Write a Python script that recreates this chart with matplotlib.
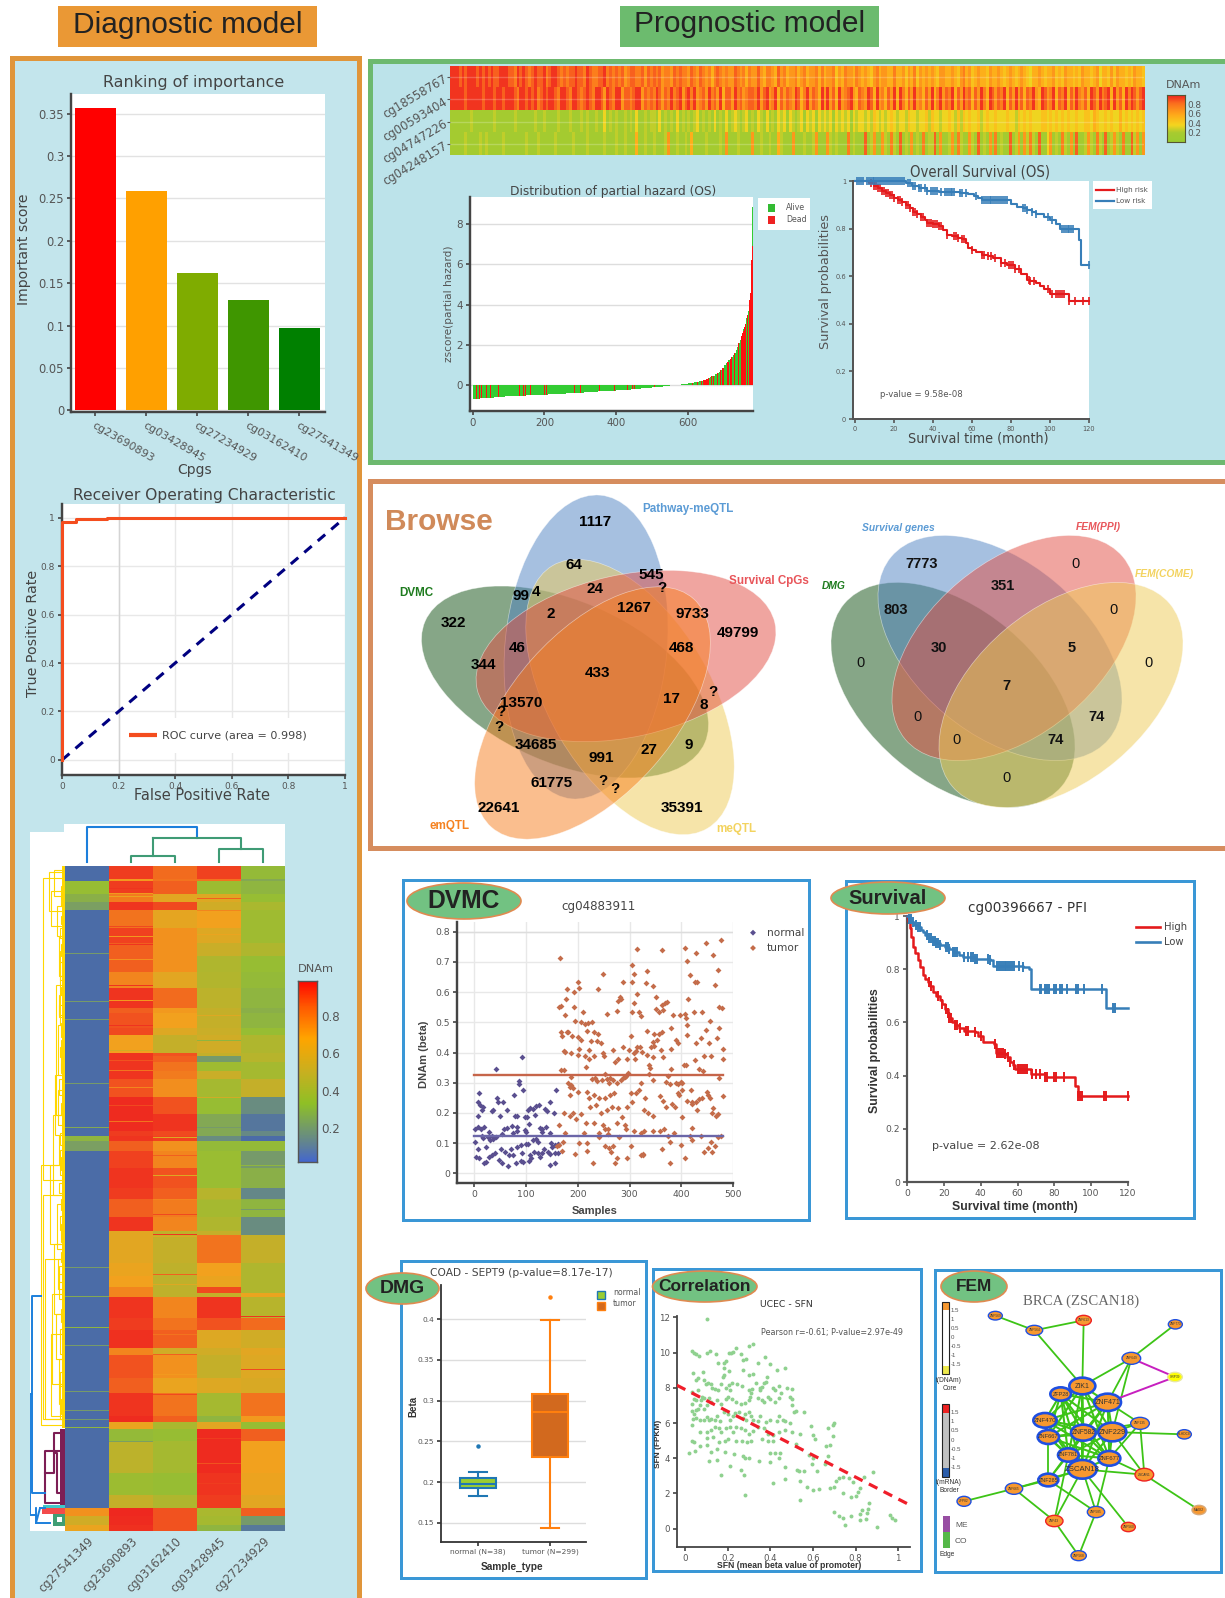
import numpy as np
import matplotlib
matplotlib.use('Agg')
import matplotlib.pyplot as plt
from matplotlib.patches import Ellipse, Rectangle
from matplotlib.colors import LinearSegmentedColormap

W, H = 1225, 1598
SANS = 'Liberation Sans'
VER = 'DejaVu Sans'
GREY = '#555555'
DARK = '#444444'

# ---------- data: ranking bar chart
cpg_names = ['cg23690893', 'cg03428945', 'cg27234929', 'cg03162410', 'cg27541349']
importance = [0.356, 0.259, 0.162, 0.130, 0.097]
bar_colors = ['#ff0000', '#ffa000', '#7fac00', '#3f9600', '#008000']

# ---------- data: ROC
roc_fpr = [0, 0, 0.05, 0.05, 0.16, 0.16, 1]
roc_tpr = [0, 0.98, 0.98, 0.995, 0.995, 1, 1]

# ---------- data: clustered heatmap (row count of each band, then five column values)
hm_cols = ['cg27541349', 'cg23690893', 'cg03162410', 'cg03428945', 'cg27234929']
hm_rows = [13, 2, 13, 8, 8, 18, 15, 13, 16, 17, 20, 5, 15, 7, 18, 3, 6, 9, 8, 18, 17, 17, 5, 5, 10, 17, 20, 12, 1,
           17, 14, 4, 28, 13, 11, 6, 4, 21, 12, 18, 7, 23, 15, 23, 7, 7, 12, 32, 22, 13, 8, 9, 6]
hm_c0 = [.03, .03, .33, .28, .22, .03, .03, .03, .03, .03, .03, .03, .03, .03, .03, .03, .03, .03, .03, .03, .03, .03, .03, .3, .22, .03, .03, .03, .03,
         .03, .03, .03, .03, .03, .03, .03, .03, .03, .03, .03, .03, .03, .03, .03, .03, .03, .03, .03, .03, .03, .72, .55, .65]
hm_c1 = [.93, .7, .93, .78, .95, .8, .92, .85, .85, .75, .95, .85, .88, .9, .68, .95, .95, .95, .95, .88, .97, .97, .93, .95, .85, .92, .95, .93, .85,
         .85, .95, .62, .62, .65, .68, .75, .75, .95, .93, .96, .75, .88, .85, .95, .97, .65, .32, .47, .35, .5, .98, .97, .96]
hm_c2 = [.82, .8, .85, .62, .9, .63, .72, .72, .72, .62, .82, .7, .68, .6, .5, .88, .85, .8, .78, .73, .88, .95, .9, .92, .72, .75, .88, .85, .75,
         .78, .75, .48, .5, .48, .48, .48, .48, .75, .8, .85, .55, .72, .65, .8, .85, .4, .33, .38, .33, .42, .88, .88, .88]
hm_c3 = [.92, .8, .35, .6, .55, .68, .6, .52, .42, .43, .47, .5, .5, .52, .55, .5, .2, .36, .52, .38, .33, .25, .25, .15, .32, .34, .34, .45, .42,
         .38, .42, .5, .8, .68, .65, .9, .5, .95, .88, .6, .55, .5, .6, .38, .3, .62, .97, .97, .95, .93, .4, .38, .3]
hm_c4 = [.32, .25, .3, .33, .4, .36, .36, .42, .33, .32, .3, .28, .3, .33, .42, .45, .45, .38, .38, .5, .15, .07, .14, .03, .32, .2, .28, .13, .28,
         .3, .15, .15, .5, .42, .42, .42, .65, .45, .82, .55, .62, .6, .58, .8, .7, .33, .85, .68, .66, .62, .85, .2, .08]
stripe_row = [87, 136, 154, 218, 262, 403, 432, 463, 481, 527, 546, 555, 564, 13, 22, 27, 30, 60, 70, 78, 93, 120, 135, 160, 185, 195, 205, 222, 240, 256,
              272, 290, 310, 330, 350, 370, 372, 410, 420, 445, 470, 490, 510, 530, 575, 600, 620, 578, 32, 44, 68, 150, 175, 232, 262, 300, 345, 395, 452, 505]
stripe_col = [0, 0, 0, 0, 0, 0, 0, 0, 0, 0, 0, 0, 0, 1, 1, 1, 1, 1, 1, 1, 1, 1, 1, 1, 1, 1, 1, 1, 1, 1,
              2, 2, 2, 2, 2, 2, 2, 2, 2, 2, 2, 2, 2, 2, 3, 3, 3, 1, 3, 3, 3, 3, 3, 3, 3, 4, 4, 4, 4, 4]
stripe_val = [.2, .2, .2, .2, .25, .2, .25, .3, .2, .2, .2, .2, .3, .7, .95, .7, .65, .9, .7, .95, .72, .95, .7, .95, .55, .88, .8, .75, .9, .8,
              .6, .85, .6, .85, .9, .95, .6, .85, .6, .75, .8, .85, .7, .9, .93, .88, .93, .22, .85, .75, .65, .6, .3, .55, .2, .3, .2, .5, .95, .9]
# left dendrogram brackets: depth, first row, last row
yd_depth = [22, 24, 16, 11, 14, 8, 6, 5, 9, 7, 10, 12, 6, 15, 22, 8, 11, 7, 13, 20, 9, 6, 14, 5, 4, 5, 6, 4, 7, 5, 4, 6, 5, 4,
            4, 5, 3.6, 5, 4, 6, 4, 5, 4, 6, 3.6, 5, 4, 6, 4, 5, 4, 6, 4, 5]
yd_top = [12, 300, 6, 4, 25, 40, 70, 110, 120, 160, 210, 250, 270, 300, 330, 340, 380, 395, 430, 395, 450, 495, 470, 520, 20, 85, 130, 175, 225, 285, 360, 410, 465, 535,
          50, 62, 78, 96, 122, 140, 158, 182, 198, 214, 238, 268, 292, 318, 335, 352, 388, 402, 445, 508]
yd_bot = [315, 562, 45, 30, 60, 70, 110, 160, 250, 210, 270, 330, 300, 380, 555, 385, 450, 425, 520, 555, 495, 540, 552, 555, 40, 115, 150, 205, 260, 310, 378, 435, 490, 550,
          58, 72, 90, 110, 130, 152, 172, 192, 208, 230, 250, 280, 305, 328, 346, 366, 398, 418, 458, 522]

# ---------- data: methylation strip heatmap (digits are tenths of beta)
strip_1 = ('99989 89998 98989 88999 88798 98789 88978 99878 78898 87987 78897 87878 67887 78687 87867 76878 77687 68767 57876 76687 67576 68657 76586 75667 '
           '56756 67575 66746 57665 76565 46756 65575 56465 74656 56546 65565 46756 45655 46556 54565 45654 35565 45564 54655 45465 54563 55464 65545 46554')
strip_2 = ('99999 89999 98999 89989 99879 98989 78989 98799 87998 78987 99869 87996 88789 96878 79868 79789 68979 67869 78695 88697 86788 79689 67958 68769 '
           '85796 87596 96859 67896 58769 85967 58695 97586 96758 69579 68795 86978 58697 59868 79586 96858 79659 86795 87958 69768 59869 78959 68597 98689')
strip_3 = ('11111 11211 11111 21111 11211 11112 11211 11211 12111 21211 21131 21211 21213 11212 21312 12131 21212 31212 13121 31232 12312 13213 12132 31321 '
           '23132 31323 23132 32313 23323 24323 23432 33243 32334 24332 33432 42434 33423 43343 33433 24343 43334 43434 34343 34334 43543 34343 35343 43434')
strip_4 = ('11111 21111 21211 11121 11111 12111 21111 12111 11211 11211 11121 11211 21115 11211 21112 61121 12151 11121 11121 61112 11116 11211 21152 11161 '
           '11211 26111 62121 11712 11181 26116 21721 81216 12171 22816 11261 72116 21812 16171 21181 26162 72181 13612 17216 18112 62172 18126 21711 82616')
strip_names = ['cg18558767', 'cg00593404', 'cg04747226', 'cg04248157']

# ---------- data: partial hazard
haz_x = [0, 10, 20, 30, 40, 50, 60, 70, 80, 90, 100, 110, 120, 130, 140, 150, 160, 170, 180, 190, 200, 210, 220, 230, 240, 250, 260, 270, 280, 290,
         300, 310, 320, 330, 340, 350, 360, 370, 380, 390, 400, 410, 420, 430, 440, 450, 460, 470, 480, 490, 500, 510, 520, 530, 540, 550, 560, 570, 580, 590, 600,
         605, 610, 615, 620, 625, 630, 635, 640, 645, 650, 655, 660, 665, 670, 675, 680, 685, 690, 695, 700, 704, 708, 712, 716, 720, 724, 728, 732, 736, 740,
         744, 748, 750, 752, 754, 756, 758, 760, 762, 764, 766, 768, 770, 772, 774, 776, 777, 778, 779]
haz_z = [-.70, -.69, -.65, -.64, -.63, -.63, -.62, -.60, -.58, -.57, -.57, -.55, -.55, -.54, -.53, -.52, -.52, -.50, -.50, -.49, -.48, -.47, -.47, -.45, -.44, -.43, -.42, -.41, -.40, -.39,
         -.38, -.37, -.36, -.35, -.34, -.32, -.31, -.30, -.29, -.28, -.27, -.26, -.25, -.24, -.23, -.22, -.20, -.18, -.16, -.15, -.13, -.11, -.09, -.07, -.05, -.03, -.01, .01, .03, .05, .08,
         .09, .10, .12, .14, .15, .17, .20, .23, .26, .30, .34, .38, .42, .46, .52, .58, .64, .72, .85, 1.0, 1.07, 1.15, 1.22, 1.30, 1.40, 1.50, 1.60, 1.72, 1.88, 2.07,
         2.25, 2.45, 2.6, 2.7, 2.8, 2.9, 3.05, 3.2, 3.35, 3.5, 3.7, 3.9, 4.2, 4.56, 5.3, 6.2, 6.9, 7.5, 8.87]
dead_samples = [3, 6, 10, 14, 18, 24, 38, 48, 64, 72, 95, 130, 140, 146, 160, 200, 205, 283, 300, 340, 352, 395, 430, 437, 445, 450, 505, 540, 590, 610, 625, 636, 641, 645, 648, 650, 653, 655,
                660, 663, 665, 670, 680, 685, 690, 695, 698, 704, 708, 711, 716, 720, 728, 732, 740, 748, 750, 752, 756, 758, 760, 764, 768, 770, 772, 774, 776, 777]

# ---------- data: survival curves
os_high_t = [0, 4, 7, 10, 12, 14, 16, 18, 20, 22, 24, 26, 28, 30, 32, 34, 36, 37, 40, 43, 45, 47, 50, 53, 55, 57, 58, 60, 62, 65, 68, 71, 75, 78, 82, 85, 88, 90, 93, 95, 97, 100, 107, 110, 120]
os_high_s = [1, .998, .99, .98, .97, .96, .95, .94, .93, .92, .91, .90, .885, .87, .86, .85, .835, .825, .82, .81, .795, .775, .77, .76, .755, .74, .72, .71, .70, .69, .685, .675, .655, .645, .63, .61, .585, .58, .57, .56, .545, .525, .525, .497, .497]
os_low_t = [0, 24, 26, 29, 33, 37, 43, 48, 54, 58, 61, 63, 65, 78, 80, 83, 86, 88, 91, 93, 97, 100, 103, 105, 114, 115, 116, 120]
os_low_s = [1, 1, .993, .98, .97, .96, .955, .952, .95, .945, .937, .93, .92, .92, .905, .89, .885, .877, .87, .863, .85, .838, .82, .80, .80, .753, .648, .648]
os_high_cens = [8, 10, 11, 12, 13, 14, 15, 16, 17, 18, 19, 20, 22, 23, 24, 26, 27, 28, 30, 31, 32, 34, 35, 37, 38, 39, 40, 41, 42, 43, 44, 47, 51, 52, 53, 55, 56, 60, 65, 66, 68, 70, 72, 75, 77, 79, 80, 81, 82, 84, 89, 90, 92, 99, 101, 103, 104, 105, 106, 107, 110, 113, 117, 120]
os_low_cens = [1, 2, 3, 4, 6, 7, 8, 9, 10, 11, 12, 13, 14, 15, 16, 17, 18, 19, 20, 21, 22, 23, 24, 25, 27, 28, 30, 31, 33, 34, 36, 37, 39, 40, 41, 42, 44, 46, 47, 48, 49, 50, 51, 54, 55, 57, 62, 65, 66, 67, 68, 69, 70, 71, 72, 73, 74, 75, 76, 77, 78, 86, 87, 88, 91, 93, 99, 101, 106, 107, 108, 109, 110, 111, 112, 120]
pfi_high_t = [0, .7, 1.4, 2.3, 3.3, 4.5, 6, 7, 8.7, 10, 11.4, 12.5, 14, 16, 17.7, 19, 20.5, 22, 23, 24.5, 26, 28, 31, 36.7, 38.5, 41, 47, 48.5, 53, 54.5, 56, 57.5, 58.5, 66.6, 67.5, 71, 74.7, 89, 91, 93, 120]
pfi_high_s = [1, .98, .954, .92, .885, .86, .834, .81, .778, .765, .753, .735, .715, .70, .684, .67, .652, .635, .615, .60, .59, .58, .567, .565, .55, .527, .517, .486, .481, .47, .452, .44, .424, .424, .405, .405, .393, .393, .36, .324, .324]
pfi_low_t = [0, 1, 2.4, 4, 6, 7.5, 8.7, 10, 11.4, 14, 16, 18, 20.5, 23, 25, 28, 30.4, 37, 45, 46.7, 63, 66, 67.3, 107, 108, 120]
pfi_low_s = [1, .99, .979, .968, .957, .949, .941, .93, .916, .905, .897, .89, .882, .875, .866, .855, .844, .84, .834, .812, .807, .799, .725, .725, .654, .654]
pfi_high_cens = [12, 13, 17, 19, 21, 22, 23, 24, 26, 27, 29, 32, 33, 37, 40, 48, 49, 50, 51, 52, 53, 55, 56, 58, 60, 61, 62, 63, 64, 65, 68, 70, 72, 75, 76, 80, 81, 85, 93, 94, 95, 107, 108, 120]
pfi_low_cens = [1, 2, 3, 5, 6, 7, 11, 12, 13, 14, 15, 16, 17, 18, 21, 22, 23, 25, 26, 27, 31, 33, 35, 36, 37, 38, 44, 45, 49, 50, 51, 52, 53, 54, 55, 56, 57, 58, 61, 63,
                72, 73, 75, 76, 77, 80, 81, 83, 84, 87, 92, 93, 96, 106, 112, 113]

# ---------- data: DVMC scatter
normal_x = [41, 92, 87, 87, 95, 9, 157, 8, 11, 16, 15, 7, 34, 37, 43, 46, 56, 63, 50, 77, 79, 83, 102, 97, 114, 103, 108, 119, 125, 147, 137, 141, 154, 117, 1, 7, 12, 18, 28, 34, 41, 53, 64, 57, 74, 72, 83, 82, 97, 100, 105, 126, 131, 139, 147, 130,
            1, 7, 14, 16, 26, 31, 37, 22, 3, 9, 18, 23, 28, 35, 39, 47, 53, 51, 60, 71, 67, 75, 66, 80, 90, 95, 83, 90, 99, 103, 93, 107, 105, 110, 115, 123, 130, 135, 123, 120, 113, 143, 147, 155, 151, 156, 148, 161, 146, 156, 161, 126]
normal_y = [.347, .386, .307, .297, .277, .265, .277, .235, .227, .221, .208, .191, .205, .208, .249, .235, .235, .209, .189, .259, .191, .191, .188, .186, .213, .209, .216, .222, .226, .236, .212, .205, .198, .193, .147, .153, .147, .153, .138, .125, .12, .131, .151, .147, .133, .157, .153, .139, .142, .137, .164, .151, .148, .153, .134, .137,
            .102, .082, .125, .117, .12, .111, .115, .087, .055, .049, .035, .038, .055, .062, .068, .044, .035, .082, .071, .082, .06, .06, .024, .035, .041, .038, .087, .093, .096, .096, .068, .06, .04, .049, .071, .066, .068, .082, .104, .112, .109, .071, .064, .066, .087, .093, .101, .096, .027, .033, .066, .055]
tumor_x = [165, 314, 363, 407, 447, 476, 428, 461, 412, 304, 248, 309, 333, 471, 417, 426, 430, 201, 287, 304, 331, 345, 465, 239, 203, 193, 179, 178, 281, 277, 284, 351, 363, 372, 368, 308, 315, 413, 164, 167, 175, 192, 472, 479, 210, 256, 275, 304, 318, 322, 352, 357, 365, 384, 398, 408, 410, 425, 441,
           195, 207, 213, 220, 227, 455, 411, 380, 473, 217, 168, 179, 181, 232, 240, 348, 356, 362, 333, 447, 303, 169, 188, 200, 207, 412, 389, 469, 438, 237, 225, 244, 394, 429, 453, 353, 345, 173, 176, 186, 200, 202, 221, 231, 249, 250, 268, 288, 299, 308, 312, 314, 321, 325, 334, 342, 348, 361, 381, 444, 458, 481,
           213, 222, 277, 272, 296, 311, 346, 364, 337, 340, 216, 168, 173, 186, 375, 381, 405, 409, 427, 435, 442, 252, 262, 294, 297, 337, 473, 480, 181, 185, 187, 190, 228, 233, 238, 246, 256, 260, 268, 275, 283, 288, 292, 323, 346, 371, 378, 390, 394, 400, 401, 419, 402,
           185, 200, 218, 222, 232, 241, 252, 262, 270, 302, 312, 319, 330, 358, 365, 383, 393, 396, 412, 420, 428, 434, 440, 449, 452, 456, 462, 467, 481, 173, 190, 206, 224, 236, 245, 256, 266, 278, 286, 296, 304, 328, 336, 345, 370, 387, 401, 421, 431, 460, 471, 185, 196, 216, 231, 248, 259, 275, 292, 309, 328, 346, 366,
           164, 172, 176, 194, 212, 217, 241, 252, 258, 268, 294, 303, 323, 326, 358, 374, 379, 385, 400, 417, 420, 438, 451, 458, 465, 471, 477, 160, 164, 169, 203, 217, 230, 241, 253, 260, 264, 271, 275, 280, 295, 322, 326, 363, 378, 408, 420, 443, 459]
tumor_y = [.714, .743, .739, .745, .764, .773, .729, .723, .703, .691, .661, .659, .671, .672, .656, .634, .635, .635, .635, .635, .629, .62, .623, .611, .615, .601, .609, .576, .583, .57, .578, .584, .556, .568, .563, .563, .593, .578, .552, .553, .524, .551, .55, .547, .534, .527, .536, .534, .535, .52, .545, .534, .541, .524, .525, .527, .515, .535, .534,
           .505, .5, .495, .497, .502, .505, .49, .48, .48, .47, .467, .467, .468, .467, .462, .46, .462, .467, .472, .473, .456, .455, .455, .452, .443, .457, .443, .447, .447, .437, .438, .43, .433, .43, .432, .44, .436, .405, .402, .4, .392, .41, .408, .39, .4, .388, .407, .417, .408, .4, .405, .418, .417, .403, .393, .418, .42, .408, .413, .39, .39, .41,
           .388, .38, .38, .37, .38, .377, .384, .386, .36, .35, .353, .342, .343, .32, .323, .345, .358, .36, .375, .345, .34, .33, .315, .323, .333, .328, .316, .38, .3, .285, .293, .283, .313, .315, .305, .31, .313, .3, .31, .298, .31, .315, .32, .3, .31, .303, .295, .3, .295, .302, .275, .275, .3,
           .26, .27, .27, .25, .26, .25, .25, .26, .265, .265, .265, .275, .25, .255, .24, .23, .265, .26, .24, .235, .235, .245, .25, .27, .26, .25, .215, .19, .255, .2, .2, .195, .22, .225, .2, .21, .22, .215, .185, .22, .235, .21, .2, .19, .22, .22, .185, .23, .21, .2, .195, .19, .18, .165, .165, .16, .145, .165, .16, .14, .14, .14, .145,
           .16, .105, .135, .065, .135, .1, .12, .145, .13, .09, .145, .09, .135, .065, .14, .125, .105, .135, .095, .125, .11, .125, .085, .105, .09, .12, .125, .09, .095, .075, .1, .075, .035, .135, .09, .085, .07, .035, .05, .12, .05, .06, .06, .08, .035, .05, .15, .072, .07]

# ---------- data: DMG box plot
box_labels = ['normal (N=38)', 'tumor (N=299)']
box_med = [.1975, .2865]
box_q1 = [.1933, .2308]
box_q3 = [.2056, .308]
box_lo = [.1827, .144]
box_hi = [.2125, .399]
box_out = [.2447, .427]

# ---------- data: correlation scatter
corr_x = [.10, .30, .32, .03, .04, .05, .065, .10, .115, .145, .205, .215, .24, .225, .26, .27, .285, .375, .34, .40, .19, .18, .155, .47, .43, .18, .27, .205, .085, .035, .18, .175, .30, .32, .385, .38, .37, .36, .35, .06, .05, .09, .105, .095, .12, .125, .14, .155, .17, .19, .205, .21, .22, .245, .265, .30, .315, .33, .35, .39, .41, .42, .44, .45, .48, .50, .49,
          .03, .06, .08, .09, .11, .075, .05, .04, .03, .07, .09, .06, .05, .03, .04, .10, .12, .15, .17, .19, .20, .22, .24, .26, .28, .30, .305, .31, .34, .36, .37, .40, .42, .44, .50, .50, .52, .56, .51, .05, .035, .07, .09, .10, .11, .12, .14, .15, .165, .18, .20, .21, .225, .235, .25, .27, .28, .285, .30, .31, .32, .34, .35, .38, .40, .44, .46, .43, .47, .49,
          .03, .07, .10, .12, .14, .16, .17, .19, .21, .225, .24, .26, .28, .30, .32, .34, .37, .39, .41, .44, .47, .50, .54, .59, .60, .03, .04, .10, .13, .16, .185, .20, .24, .265, .29, .31, .36, .39, .41, .52, .61, .015, .045, .07, .10, .12, .15, .185, .23, .27, .28, .30, .345, .40, .42, .445, .40, .44, .47, .11, .15, .21, .17, .26, .275,
          .525, .535, .56, .58, .595, .60, .62, .655, .66, .67, .695, .70, .695, .67, .68, .28, .41, .47, .54, .54, .57, .60, .63, .68, .70, .71, .72, .74, .77, .79, .74, .78, .80, .81, .82, .88, .84, .70, .72, .74, .75, .78, .82, .83, .82, .85, .855, .86, .865, .90, .96, .97, .985]
corr_y = [11.9, 10.4, 10.5, 10.1, 10, 9.9, 9.8, 10, 10.1, 9.95, 10, 10, 10.25, 10.05, 9.95, 9.6, 9.65, 9.75, 9.4, 9.35, 9.5, 9.4, 9.4, 9.1, 9, 9.15, 9, 8.95, 8.9, 8.85, 8.75, 8.6, 8.75, 8.8, 8.6, 8.35, 8.25, 8.05, 7.9, 8.55, 8.45, 8.45, 8.3, 8.2, 8.2, 8, 7.95, 7.85, 8.2, 8, 8.15, 7.9, 8.3, 8.2, 8.1, 7.85, 7.95, 8.25, 8, 7.5, 8, 7.9, 8.1, 7.7, 8, 7.95, 7.5,
          7.75, 7.85, 7.5, 7.45, 7.45, 7.3, 7.3, 7.35, 7.1, 7, 6.8, 6.8, 6.75, 6.7, 6.5, 7, 7.2, 7.3, 7.1, 7.35, 7.5, 7.35, 7.2, 7.1, 7.15, 7.3, 7.5, 7.7, 7.45, 7.3, 7.2, 7.35, 7.2, 7.4, 7.35, 7, 6.7, 6.6, 6.6, 6.3, 6.25, 6.2, 6.2, 6.35, 6.15, 6.25, 6.2, 6.4, 6.1, 6.6, 6.5, 6.2, 6.4, 6.55, 6.6, 6.3, 6.5, 6.2, 6.6, 6.4, 6.2, 6.1, 6.4, 6.05, 6.2, 6.4, 6.2, 6.1, 6.1, 6,
          5.9, 5.5, 5.5, 5.6, 5.8, 5.7, 5.5, 5.7, 5.8, 5.5, 5.75, 5.7, 5.6, 5.4, 5.55, 5.75, 5.7, 5.4, 5.3, 5.5, 5.6, 5.5, 5.35, 5.85, 5.3, 5, 4.95, 5.15, 5.2, 4.9, 5, 5.1, 5, 5, 4.95, 5, 5.1, 5, 5, 4.8, 5.1, 4.3, 4.4, 4.7, 4.75, 4.35, 4.5, 4.35, 4.25, 4.15, 4, 4, 3.85, 4.3, 4.3, 4.3, 3.8, 4, 3.5, 3.85, 3.9, 3.55, 3.05, 3.35, 3.05,
          3.35, 3.25, 3.25, 4.2, 3.7, 4, 3.3, 3.7, 4.7, 4.1, 5.9, 6, 5.25, 5.7, 4.75, 1.9, 2.6, 2.8, 1.65, 2.7, 2.35, 2.2, 2.25, 2.3, 2.35, 2.7, 2.9, 2.95, 2.85, 2.65, 2, 1.8, 1.85, 2.1, 2.3, 3.2, 2.95, .95, .7, .6, .2, .7, .85, 1.05, .5, .55, .9, 1.1, 1.45, .1, .75, .6, .5]
corr_fit_x = [-.04, 1.054]
corr_fit_y = [8.15, 1.35]

# ---------- data: FEM network
net_names = ['ZNF569', 'ZNF564', 'ZNF613', 'ZNF773', 'ZNF649', 'GRP39', 'ZIK1', 'ZFP28', 'ZNF471', 'ZNF470', 'ZNF582', 'ZNF229', 'ZNF135', 'ZNF667', 'KLHDC8',
             'ZNF781', 'ZNF677', 'ZSCAN18', 'ZSCAN1', 'ZNF285', 'ZNF665', 'ZFP82', 'ZNF585', 'ZNF43', 'ZNF560', 'MAGI2', 'ZNF568']
net_x = [196, 313, 461, 736, 604, 735, 457, 392, 533, 345, 460, 547, 630, 355, 763, 415, 538, 457, 643, 355, 252, 102, 498, 373, 595, 807, 446]
net_y = [167, 211, 181, 193, 295, 351, 378, 402, 427, 481, 518, 516, 490, 531, 523, 585, 595, 628, 644, 660, 686, 724, 756, 783, 801, 750, 887]
net_w = [42, 50, 46, 42, 56, 44, 78, 62, 80, 70, 74, 84, 56, 64, 42, 62, 66, 86, 56, 60, 52, 42, 52, 52, 42, 42, 46]
net_h = [26, 30, 30, 28, 36, 28, 50, 40, 52, 44, 48, 56, 36, 42, 28, 40, 44, 56, 38, 38, 34, 30, 34, 34, 28, 28, 30]
net_edge = ['b', 'b', 'r', 'b', 'b', 'y', 'b', 'b', 'b', 'b', 'b', 'b', 'b', 'b', 'b', 'b', 'b', 'b', 'r', 'b', 'b', 'b', 'b', 'r', 'r', 't', 'b']
net_core = [6, 7, 8, 9, 10, 11, 13, 15, 16, 17]
net_co = [(0, 1), (1, 2), (1, 6), (2, 6), (3, 4), (4, 6), (4, 8), (4, 11), (12, 8), (12, 10), (12, 11), (12, 16), (12, 18), (14, 11), (18, 17), (18, 25), (18, 11), (18, 16),
          (19, 17), (19, 13), (19, 15), (19, 22), (19, 10), (20, 21), (20, 19), (20, 17), (20, 23), (23, 17), (23, 15), (23, 26), (26, 22), (22, 17), (22, 16), (24, 17)]
net_me = [(4, 5), (8, 5)]
cb_ticks = ['1.5', '1', '0.5', '0', '-0.5', '-1', '-1.5']

# ---------- data: Venn labels
venn5_txt = ['1117', '64', '24', '545', '?', '99', '4', '2', '1267', '9733', '49799', '322', '46', '468', '344', '433', '17', '8', '?', '13570', '?', '?', '34685', '991', '27', '9', '61775', '?', '?', '22641', '35391']
venn5_zx = [420, 380, 420, 522, 541, 284, 311, 338, 490, 597, 679, 162, 278, 577, 216, 424, 558, 617, 634, 285, 248, 244, 312, 430, 518, 590, 340, 434, 455, 243, 578]
venn5_zy = [140, 270, 343, 300, 338, 362, 350, 418, 400, 417, 473, 443, 520, 520, 570, 595, 671, 690, 650, 684, 710, 755, 810, 849, 824, 810, 925, 918, 942, 1000, 1000]
venn4_txt = ['7773', '0', '351', '0', '803', '30', '5', '0', '0', '7', '0', '74', '0', '74', '0']
venn4_zx = [1014, 1295, 1162, 1365, 968, 1047, 1288, 904, 1428, 1169, 1008, 1334, 1078, 1258, 1169]
venn4_zy = [266, 266, 334, 404, 404, 519, 519, 565, 565, 634, 726, 726, 795, 795, 910]

# ---------- figure helpers
fig = plt.figure(figsize=(W / 100, H / 100), dpi=100, facecolor='white')


def axpx(x0, y0, x1, y1, z=2):
    a = fig.add_axes([x0 / W, 1 - y1 / H, (x1 - x0) / W, (y1 - y0) / H], zorder=z)
    return a


bg = axpx(0, 0, W, H, 0)
bg.set_xlim(0, W)
bg.set_ylim(H, 0)
bg.axis('off')
fg = axpx(0, 0, W, H, 6)
fg.set_xlim(0, W)
fg.set_ylim(H, 0)
fg.axis('off')
fg.patch.set_alpha(0)


def T(x, y, s, size=9, color='#333333', ha='center', va='center', family=VER, weight='normal', style='normal', rot=0, stretch='normal', z=8):
    return fg.text(x, y, s, fontsize=size, color=color, ha=ha, va=va, family=family, weight=weight, style=style, rotation=rot, stretch=stretch, zorder=z)


def frame(x0, y0, x1, y1, face, edge, lw):
    bg.add_patch(Rectangle((x0, y0), x1 - x0, y1 - y0, fc=face, ec=edge, lw=lw * 0.72))


def style(a, spine=DARK, lw=2.4, tick=8, color=GREY, grid=None, xgrid=False):
    for s in ['top', 'right']:
        a.spines[s].set_visible(False)
    for s in ['left', 'bottom']:
        a.spines[s].set_color(spine)
        a.spines[s].set_linewidth(lw * 0.72)
    a.tick_params(labelsize=tick, colors=color, length=3, width=1.2, color=spine, pad=2)
    a.set_facecolor('white')
    if grid:
        a.grid(axis='both' if xgrid else 'y', color=grid, lw=1)
        a.set_axisbelow(True)


def badge(x0, y0, x1, y1, s, size):
    fg.add_patch(Ellipse(((x0 + x1) / 2, (y0 + y1) / 2), x1 - x0, y1 - y0, fc='#72C282', ec='#E08A50', lw=1.2, zorder=7))
    T((x0 + x1) / 2, (y0 + y1) / 2, s, size=size, color='#222222', family=SANS, weight='bold')


# ---------- frames and headers
bg.add_patch(Rectangle((58, 6), 259, 41, fc='#EA9835', ec='none'))
bg.add_patch(Rectangle((620, 6), 259, 41, fc='#6CBB6E', ec='none'))
T(187.5, 25, 'Diagnostic model', size=21.5, color='#222222', family=SANS)
T(749.5, 24.5, 'Prognostic model', size=21.5, color='#222222', family=SANS)
frame(11.5, 58, 358.5, 1610, '#C3E5EC', '#E0953A', 5)
frame(369.5, 60.5, 1240, 461.5, '#BCE3EA', '#6DB96F', 5)
frame(369.5, 480.5, 1240, 847.5, 'white', '#D68D5E', 5)
frame(403, 880, 808.5, 1220, 'white', '#3A97D6', 3)
frame(845.5, 881, 1194, 1218, 'white', '#3A97D6', 3)
frame(401, 1260.5, 645.5, 1578, 'white', '#3A97D6', 3)
frame(652.5, 1268.5, 920.5, 1571, 'white', '#3A97D6', 3)
frame(935, 1270, 1221, 1572, 'white', '#3A97D6', 3)

# ---------- ranking bars
ax = axpx(71, 94, 325, 412)
style(ax, tick=8.3, grid='#E2E2E2')
ax.bar(range(5), importance, width=0.804, color=bar_colors)
ax.set_xlim(-0.476, 4.5)
ax.set_ylim(-0.002, 0.373)
ax.set_yticks([0, .05, .1, .15, .2, .25, .3, .35])
ax.set_yticklabels(['0', '0.05', '0.1', '0.15', '0.2', '0.25', '0.3', '0.35'])
ax.set_xticks(range(5))
ax.set_xticklabels(cpg_names, rotation=-30, ha='left', rotation_mode='anchor', fontsize=8)
ax.tick_params(axis='x', pad=3)
T(193.5, 83, 'Ranking of importance', size=11.4, color='#444444')
T(195, 470, 'Cpgs', size=10, color='#444444')
T(24, 249, 'Important score', size=10.1, color='#444444', rot=90)

# ---------- ROC
ax = axpx(62, 504, 345, 775)
style(ax, tick=6.5, grid='#E8E8E8', xgrid=True)
ax.plot(roc_fpr, roc_tpr, color='#F44D1E', lw=2.2, clip_on=False, zorder=4)
ax.plot([0, 1], [0, 1], color='#000080', lw=2.2, ls=(0, (3.2, 2.6)), zorder=3, clip_on=False)
ax.axvline(0.2, color='#D4D4D4', lw=1)
ax.add_patch(Rectangle((0.22, 0.03), 0.73, 0.145, fc='white', ec='none', zorder=2))
ax.plot([0.235, 0.335], [0.103, 0.103], color='#F44D1E', lw=3, zorder=4, solid_capstyle='butt')
ax.text(0.353, 0.103, 'ROC curve (area = 0.998)', fontsize=8, color='#444444', va='center', zorder=4)
ax.set_xlim(0, 1)
ax.set_ylim(-0.062, 1.056)
ax.set_xticks([0, .2, .4, .6, .8, 1])
ax.set_xticklabels(['0', '0.2', '0.4', '0.6', '0.8', '1'])
ax.set_yticks([0, .2, .4, .6, .8, 1])
ax.set_yticklabels(['0', '0.2', '0.4', '0.6', '0.8', '1'])
T(204, 495.5, 'Receiver Operating Characteristic', size=11.2, color='#444444')
T(202, 796, 'False Positive Rate', size=10.5, color='#444444')
T(32.7, 633, 'True Positive Rate', size=10.3, color='#444444', rot=90)

# ---------- clustered heatmap
dnam_cmap = LinearSegmentedColormap.from_list('dnam', [(0, '#3F63D8'), (.1, '#5E7F9A'), (.33, '#8FC026'), (.5, '#C8B020'), (.68, '#FFA500'), (.85, '#FF5A00'), (1, '#FF0000')])
hm_cmap = LinearSegmentedColormap.from_list('hm', [(0, '#4565AE'), (.1, '#5D7F95'), (.33, '#98BE33'), (.5, '#C4B02A'), (.68, '#F2A21E'), (.85, '#F2601F'), (1, '#EE2020')])
bg.add_patch(Rectangle((30, 832), 35, 699, fc='white', ec='none'))
bg.add_patch(Rectangle((64, 824), 221, 42, fc='white', ec='none'))
hm = np.repeat(np.column_stack([hm_c0, hm_c1, hm_c2, hm_c3, hm_c4]), hm_rows, axis=0)
hm[stripe_row, stripe_col] = stripe_val
n_rows = hm.shape[0]
ax = axpx(65, 866, 285, 1531)
ax.imshow(hm, cmap=hm_cmap, vmin=0, vmax=1, aspect='auto', interpolation='nearest', extent=(-.5, 4.5, n_rows, 0))
ax.set_yticks([])
ax.set_xticks(range(5))
ax.set_xticklabels(hm_cols, rotation=45, ha='right', rotation_mode='anchor', fontsize=8.3, color=GREY)
ax.tick_params(axis='x', length=0, pad=3)
for s in ax.spines.values():
    s.set_visible(False)
ax.patch.set_alpha(0)

dt = axpx(65, 824, 285, 866)
dt.set_xlim(-.5, 4.5)
dt.set_ylim(0, 42)
dt.axis('off')
dt.plot([0, 0, 2.5, 2.5], [4, 39, 39, 28], color='#1C7FDC', lw=1.5)
dend_green = '#3F9B75'
dt.plot([1.5, 1.5, 3.5, 3.5], [28, 28, 28, 17], color=dend_green, lw=1.5)
dt.plot([1.5, 1.5], [28, 10], color=dend_green, lw=1.5)
dt.plot([1, 1, 2, 2], [4, 10, 10, 4], color=dend_green, lw=1.5)
dt.plot([3, 3, 4, 4], [4, 17, 17, 4], color=dend_green, lw=1.5)

dl = axpx(30, 866, 65, 1531)
dl.set_xlim(35, 0)
dl.set_ylim(n_rows, 0)
dl.axis('off')
for d, a, b in zip(yd_depth, yd_top, yd_bot):
    dl.plot([0, d, d, 0], [a, a, b, b], color='#FFD700', lw=.8, solid_joinstyle='miter')
dl.add_patch(Rectangle((0, 0), 3.3, 565, fc='#FFD700', ec='none'))
dl.add_patch(Rectangle((0, 566), 5, 78, fc='#7D1E55', ec='none'))
purple = '#7D1E55'
dl.plot([0, 20, 20, 0], [588, 588, 640, 640], color=purple, lw=1.5)
dl.plot([20, 11.5, 11.5, 0], [610, 610, 570, 570], color=purple, lw=1.5)
dl.plot([11.5, 8, 8, 0], [590, 590, 630, 630], color=purple, lw=1.5)
dl.add_patch(Rectangle((0, 642), 22, 2.5, fc='#3FC9C9', ec='none'))
dl.add_patch(Rectangle((0, 645), 23, 6, fc='#F34B4B', ec='none'))
dl.add_patch(Rectangle((0, 651), 12, 12, fc='#3F9E75', ec='none'))
dl.add_patch(Rectangle((3, 654), 5, 5, fc='white', ec='none'))
blue = '#1C7FDC'
for xs, ys in [([24, 33, 33, 20], [432, 432, 630, 630]), ([33, 35, 35, 29], [530, 530, 652, 652]),
               ([29, 29, 25], [645, 660, 645]), ([29, 15], [660, 660]), ([25, 20], [645, 645])]:
    dl.plot(xs, ys, color=blue, lw=1.4)

cb = axpx(298, 981, 317, 1162)
cb.imshow(np.linspace(.987, .018, 200)[:, None], cmap=dnam_cmap, vmin=0, vmax=1, aspect='auto', extent=(0, 1, .018, .987))
cb.set_xticks([])
cb.yaxis.tick_right()
cb.set_yticks([.2, .4, .6, .8])
cb.tick_params(labelsize=8.6, colors=GREY, length=0, pad=3)
for s in cb.spines.values():
    s.set_color(GREY)
    s.set_linewidth(1)
T(298, 969, 'DNAm', size=8.2, color=GREY, ha='left')

# ---------- methylation strip heatmap
strip_cmap = LinearSegmentedColormap.from_list('strip', [(0, '#9ACD32'), (.2, '#A8CB30'), (.36, '#F5D51F'), (.58, '#FFA91A'), (.82, '#FB6E1E'), (1, '#EE2020')])
strip_rows = [s.replace(' ', '') for s in (strip_1, strip_2, strip_3, strip_4)]
strip_n = min(len(s) for s in strip_rows)
strip = np.array([[int(c) for c in r[:strip_n]] for r in strip_rows]) / 10 + .05
ax = axpx(449.5, 65.7, 1144, 155)
ax.imshow(strip, cmap=strip_cmap, vmin=0, vmax=1, aspect='auto', interpolation='nearest')
for r in range(4):
    ax.axhline(r, color='white', lw=1, alpha=.22)
ax.set_xticks([])
ax.set_yticks(range(4))
ax.set_yticklabels(strip_names, rotation=31, fontsize=8.4, color=GREY, ha='right', rotation_mode='anchor')
ax.tick_params(axis='y', length=2, color=GREY, pad=1)
for s in ax.spines.values():
    s.set_visible(False)
cb = axpx(1167, 95, 1185, 142)
cb.imshow(np.linspace(.99, .01, 100)[:, None], cmap=strip_cmap, vmin=0, vmax=1, aspect='auto', extent=(0, 1, .01, .99))
cb.set_xticks([])
cb.yaxis.tick_right()
cb.set_yticks([.2, .4, .6, .8])
cb.tick_params(labelsize=6.4, colors=GREY, length=0, pad=2)
for s in cb.spines.values():
    s.set_color('#555533')
    s.set_linewidth(.8)
T(1166, 85, 'DNAm', size=8, color=GREY, ha='left')

# ---------- partial hazard
ax = axpx(470, 197, 753, 411)
style(ax, tick=7.4, grid='#DDDDDD')
hx = np.array(haz_x, float)
hz = np.array(haz_z)
ax.bar(hx, hz, width=np.diff(np.append(hx, 780.5)), align='edge', color='#33CC33', lw=0, zorder=2)
dead = np.array(dead_samples)
dead_z = hz[np.searchsorted(hx, dead, side='right') - 1]
ax.bar(dead, dead_z, width=2.2, align='edge', color='#FF1111', lw=0, zorder=3)
ax.set_xlim(-7, 780.5)
ax.set_ylim(-1.3, 9.35)
ax.set_xticks([0, 200, 400, 600])
ax.set_yticks([0, 2, 4, 6, 8])
T(613, 191, 'Distribution of partial hazard (OS)', size=9.7, color='#444444', stretch='condensed')
T(449, 304, 'zscore(partial hazard)', size=7.6, color=GREY, rot=90)
bg.add_patch(Rectangle((758, 198), 52, 32, fc='white', ec='none'))
bg.add_patch(Rectangle((768, 203.5), 7, 8, fc='#33BB33', ec='none'))
bg.add_patch(Rectangle((768, 216), 7, 8, fc='#EE2222', ec='none'))
T(786, 207.5, 'Alive', size=5.6, color=GREY, ha='left')
T(786, 220, 'Dead', size=5.6, color=GREY, ha='left')


def km(a, t, s, cens, color, lw, ms, mew):
    a.step(t, s, where='post', color=color, lw=lw, zorder=3, clip_on=False)
    idx = np.searchsorted(t, cens, side='right') - 1
    a.plot(cens, np.array(s)[idx], ls='', marker='|', ms=ms, mew=mew, color=color, zorder=3, clip_on=False)


# ---------- overall survival
ax = axpx(853, 181, 1089, 419)
style(ax, tick=4.8, spine='#555555', lw=2)
km(ax, os_high_t, os_high_s, os_high_cens, '#E41A1C', 1.5, 6, 1.2)
km(ax, os_low_t, os_low_s, os_low_cens, '#377EB8', 1.5, 6, 1.2)
ax.set_xlim(-1, 120)
ax.set_ylim(0, 1)
ax.set_xticks(range(0, 121, 20))
ax.set_yticks([0, .2, .4, .6, .8, 1])
ax.set_yticklabels(['0', '0.2', '0.4', '0.6', '0.8', '1'])
ax.text(0.114, 0.105, 'p-value = 9.58e-08', transform=ax.transAxes, fontsize=6.8, color=GREY, va='center', stretch='condensed')
T(980.5, 171.7, 'Overall Survival (OS)', size=10.7, color='#444444', stretch='condensed')
T(978, 439, 'Survival time (month)', size=10.3, color='#444444', stretch='condensed')
T(825, 281.7, 'Survival probabilities', size=9.2, color=GREY, rot=90)
bg.add_patch(Rectangle((1093, 181), 59, 28, fc='white', ec='none'))
fg.plot([1096, 1114], [190, 190], color='#E41A1C', lw=1.6)
fg.plot([1096, 1114], [201, 201], color='#377EB8', lw=1.6)
T(1116, 190, 'High risk', size=5.2, color=GREY, ha='left')
T(1116, 201, 'Low risk', size=5.2, color=GREY, ha='left')

# ---------- Venn diagrams
set5_col = ['#0F4F10', '#4F83C3', '#EFCB55', '#E24D42', '#F77F1F']
set5_cx = [565, 586, 630, 626, 592.5]
set5_cy = [682, 647, 697, 656, 713]
set5_ang = [23.5, -84.5, 59.5, -12.5, 131.5]
for c, cx, cy, an in zip(set5_col, set5_cx, set5_cy, set5_ang):
    bg.add_patch(Ellipse((cx, cy), 305, 162, angle=an, fc=c, ec='none', alpha=.5))
    bg.add_patch(Ellipse((cx, cy), 305, 162, angle=an, fc='none', ec='white', lw=.5, alpha=.5))
set4_col = ['#0F4F10', '#4F83C3', '#E24D42', '#EFCB55']
set4_cx = [953, 1000, 1014, 1061]
set4_cy = [695, 648, 648, 695]
set4_ang = [40, 40, -40, -40]
for c, cx, cy, an in zip(set4_col, set4_cx, set4_cy, set4_ang):
    bg.add_patch(Ellipse((cx, cy), 284, 172, angle=an, fc=c, ec='none', alpha=.5))
    bg.add_patch(Ellipse((cx, cy), 284, 172, angle=an, fc='none', ec='white', lw=.5, alpha=.5))
for s, zx, zy in zip(venn5_txt, venn5_zx, venn5_zy):
    T(365 + zx / 1.823, 475 + zy / 3, s, size=11, color='black', family=SANS, weight='bold')
for s, zx, zy in zip(venn4_txt, venn4_zx, venn4_zy):
    T(365 + zx / 1.823, 475 + zy / 3, s, size=10.5, color='#111111', family=SANS, weight='bold' if s in ('7773', '803', '351', '30', '74', '5', '7') else 'normal')
T(365 + 135 / 1.823, 475 + 140 / 3, 'Browse', size=21.5, color='#D08A5A', family=SANS, weight='bold')
for s, zx, zy, c in [('Pathway-meQTL', 588, 102, '#5B9BD5'), ('Survival CpGs', 736, 318, '#E8555A'), ('DVMC', 93, 355, '#1E7B1E'), ('emQTL', 155, 1054, '#F58220'), ('meQTL', 676, 1062, '#F3D35F')]:
    T(365 + zx / 1.823, 475 + zy / 3, s, size=8.4, color=c, family=SANS, weight='bold')
for s, zx, zy, c in [('Survival genes', 972, 158, '#5B9BD5'), ('FEM(PPI)', 1337, 156, '#E8555A'), ('FEM(COME)', 1458, 298, '#F3D35F'), ('DMG', 855, 333, '#1E7B1E')]:
    T(365 + zx / 1.823, 475 + zy / 3, s, size=7.4, color=c, family=SANS, weight='bold', style='italic')

# ---------- DVMC scatter
ax = axpx(457, 922, 733, 1183)
style(ax, tick=6.7, grid='#E8E8E8', xgrid=True, spine='#444444')
ax.axhline(.8, color='#DDDDDD', lw=1)
ax.scatter(normal_x, normal_y, marker='D', s=9, color='#5A4F8F', lw=0, zorder=3)
ax.scatter(tumor_x, tumor_y, marker='D', s=9, color='#C46C4A', lw=0, zorder=3)
ax.plot([0, 480], [.327, .327], color='#C6654A', lw=1.7, zorder=4)
ax.plot([0, 480], [.124, .124], color='#6B66A8', lw=1.7, zorder=4)
ax.set_xlim(-33.5, 493)
ax.set_ylim(-.0322, .8322)
ax.set_xticks(range(0, 501, 100))
ax.set_yticks([0, .1, .2, .3, .4, .5, .6, .7, .8])
ax.set_yticklabels(['0', '0.1', '0.2', '0.3', '0.4', '0.5', '0.6', '0.7', '0.8'])
badge(407, 883, 521, 919, 'DVMC', 17.7)
T(599, 906.7, 'cg04883911', size=8.6, color='#444444')
T(595, 1211, 'Samples', size=8, color='#444444', family=SANS, weight='bold')
T(424, 1054, 'DNAm (beta)', size=8, color='#444444', family=SANS, weight='bold', rot=90)
fg.scatter([753, 753], [932.7, 948], marker='D', s=9, c=['#5A4F8F', '#C46C4A'], lw=0)
T(767, 932.7, 'normal', size=7.6, color='#444444', ha='left')
T(767, 948, 'tumor', size=7.6, color='#444444', ha='left')

# ---------- PFI survival
ax = axpx(907, 916, 1128, 1182)
style(ax, tick=6.6, spine='#555555', lw=2.2)
km(ax, pfi_high_t, pfi_high_s, pfi_high_cens, '#E41A1C', 1.8, 7, 1.4)
km(ax, pfi_low_t, pfi_low_s, pfi_low_cens, '#377EB8', 1.8, 7, 1.4)
ax.set_xlim(0, 120)
ax.set_ylim(0, 1)
ax.set_xticks(range(0, 121, 20))
ax.set_yticks([0, .2, .4, .6, .8, 1])
ax.set_yticklabels(['0', '0.2', '0.4', '0.6', '0.8', '1'])
badge(831, 882, 945, 914, 'Survival', 14.5)
T(1028, 907.7, 'cg00396667 - PFI', size=9.8, color='#333333')
T(1015, 1206.7, 'Survival time (month)', size=8.8, color='#333333', family=SANS, weight='bold')
T(875, 1051, 'Survival probabilities', size=8.8, color='#333333', family=SANS, weight='bold', rot=90)
T(932, 1145.7, 'p-value = 2.62e-08', size=8, color='#444444', ha='left')
fg.plot([1136, 1160], [927.3, 927.3], color='#E41A1C', lw=1.9)
fg.plot([1136, 1160], [942.3, 942.3], color='#377EB8', lw=1.9)
T(1164, 927.3, 'High', size=7.2, color='#444444', ha='left')
T(1164, 942.3, 'Low', size=7.2, color='#444444', ha='left')

# ---------- DMG box plot
ax = axpx(441, 1285, 585.7, 1541.7)
style(ax, tick=5.4, grid='#DDDDDD', spine='#333333', lw=1.8)
for i, (fc, ec, ow) in enumerate([('#9ACD32', '#1F77B4', 1.5), ('#D2691E', '#FF7F0E', 1.5)]):
    st = [dict(med=box_med[i], q1=box_q1[i], q3=box_q3[i], whislo=box_lo[i], whishi=box_hi[i], fliers=[box_out[i]])]
    line = dict(color=ec, lw=ow)
    ax.bxp(st, positions=[i], widths=.5, patch_artist=True, boxprops=dict(fc=fc, ec=ec, lw=ow), medianprops=line, whiskerprops=line, capprops=line,
           flierprops=dict(marker='o', ms=2.2, mfc=ec, mec=ec), manage_ticks=False, zorder=3)
ax.set_xlim(-.514, 1.496)
ax.set_ylim(.127, .442)
ax.set_xticks([0, 1])
ax.set_xticklabels(box_labels)
ax.set_yticks([.15, .2, .25, .3, .35, .4])
ax.set_yticklabels(['0.15', '0.2', '0.25', '0.3', '0.35', '0.4'])
badge(366, 1273, 439, 1304, 'DMG', 14)
T(521.4, 1273.3, 'COAD - SEPT9 (p-value=8.17e-17)', size=7.7, color='#444444')
T(413, 1406.7, 'Beta', size=7, color='#333333', family=SANS, weight='bold', rot=90)
T(512, 1566.7, 'Sample_type', size=7.3, color='#333333', family=SANS, weight='bold')
fg.add_patch(Rectangle((596.5, 1291), 8, 8, fc='#9ACD32', ec='#1F77B4', lw=1))
fg.add_patch(Rectangle((596.5, 1302), 8, 8, fc='#D2691E', ec='#FF7F0E', lw=1))
T(613, 1292.7, 'normal', size=5.6, color=GREY, ha='left')
T(613, 1304, 'tumor', size=5.6, color=GREY, ha='left')

# ---------- correlation
ax = axpx(676.8, 1315.7, 909.6, 1547.3)
style(ax, tick=6.2, spine='#444444', lw=1.8)
ax.scatter(corr_x, corr_y, s=8, color='#8FD18F', lw=0, zorder=2, clip_on=False)
ax.plot(corr_fit_x, corr_fit_y, color='#F01E2A', lw=2.3, ls=(0, (3, 2.2)), zorder=3)
ax.set_xlim(-.04, 1.054)
ax.set_ylim(-1.06, 12.1)
ax.set_xticks([0, .2, .4, .6, .8, 1])
ax.set_xticklabels(['0', '0.2', '0.4', '0.6', '0.8', '1'])
ax.set_yticks(range(0, 13, 2))
badge(652.5, 1271, 757, 1302, 'Correlation', 12.5)
T(786.4, 1304.3, 'UCEC - SFN', size=6.7, color='#333333')
T(761.4, 1332, 'Pearson r=-0.61; P-value=2.97e-49', size=5.8, color=GREY, ha='left')
T(789, 1565, 'SFN (mean beta value of promoter)', size=6.2, color='#333333', family=SANS, weight='bold')
T(659, 1444, 'SFN (FPKM)', size=6, color='#333333', family=SANS, weight='bold', rot=90)

# ---------- FEM network
net = axpx(930, 1260, 1225, 1598, 3)
net.set_xlim(0, 885)
net.set_ylim(1014, 0)
net.axis('off')
net.patch.set_alpha(0)
for i, a in enumerate(net_core):
    for b in net_core[i + 1:]:
        net.plot([net_x[a], net_x[b]], [net_y[a], net_y[b]], color='#3DC416', lw=1.5, zorder=1)
for a, b in net_co:
    net.plot([net_x[a], net_x[b]], [net_y[a], net_y[b]], color='#3DC416', lw=1.3, zorder=1)
for a, b in net_me:
    net.plot([net_x[a], net_x[b]], [net_y[a], net_y[b]], color='#C71FBF', lw=1.4, zorder=1)
edge_map = {'b': '#1F4FE0', 'r': '#EE2222', 'y': '#E8E8A0', 't': '#D8A878'}
for n, x, y, w, h, e in zip(net_names, net_x, net_y, net_w, net_h, net_edge):
    face = '#FFFF00' if e == 'y' else '#F7982F'
    big = w >= 60
    net.add_patch(Ellipse((x, y), w, h, fc=face, ec=edge_map[e], lw=1.9 if big else 1, zorder=3))
    net.text(x, y, n, fontsize=max(2.2, w / 15.5) if big else 2.3, ha='center', va='center', color='#333333', family=SANS, zorder=4)
net.text(58, 362, 't(DNAm)', fontsize=4.8, ha='center', va='center', color='#333333', family=SANS)
net.text(58, 385, 'Core', fontsize=4.8, ha='center', va='center', color='#333333', family=SANS)
net.text(58, 668, 't(mRNA)', fontsize=4.8, ha='center', va='center', color='#333333', family=SANS)
net.text(58, 692, 'Border', fontsize=4.8, ha='center', va='center', color='#333333', family=SANS)
for top, mid, low, cols in [(125, 150, 317, ('#F7982F', 'white', '#EDE84B')), (433, 458, 623, ('#EE2222', '#C0C0C0', '#2A5CAA'))]:
    bot = top + 218
    net.add_patch(Rectangle((37, top), 20, mid - top, fc=cols[0], ec='none'))
    net.add_patch(Rectangle((37, mid), 20, low - mid, fc=cols[1], ec='none'))
    net.add_patch(Rectangle((37, low), 20, bot - low, fc=cols[2], ec='none'))
    net.add_patch(Rectangle((37, top), 20, 218, fc='none', ec='#222222', lw=.8))
    for i, s in enumerate(cb_ticks):
        net.text(62, mid + i * 27.5, s, fontsize=4.4, ha='left', va='center', color=GREY, family=SANS)
net.add_patch(Rectangle((40, 768), 20, 48, fc='#984EA3', ec='none'))
net.add_patch(Rectangle((40, 816), 20, 48, fc='#55B848', ec='none'))
net.text(75, 797, 'ME', fontsize=6, va='center', color=GREY, family=SANS)
net.text(75, 845, 'CO', fontsize=6, va='center', color=GREY, family=SANS)
net.text(52, 884, 'Edge', fontsize=4.8, ha='center', va='center', color='#333333', family=SANS)
badge(941, 1271, 1007, 1302, 'FEM', 12.4)
T(1081, 1301.7, 'BRCA (ZSCAN18)', size=10.6, color='#666666', family='Liberation Serif')

fig.savefig('out.png', dpi=100)
